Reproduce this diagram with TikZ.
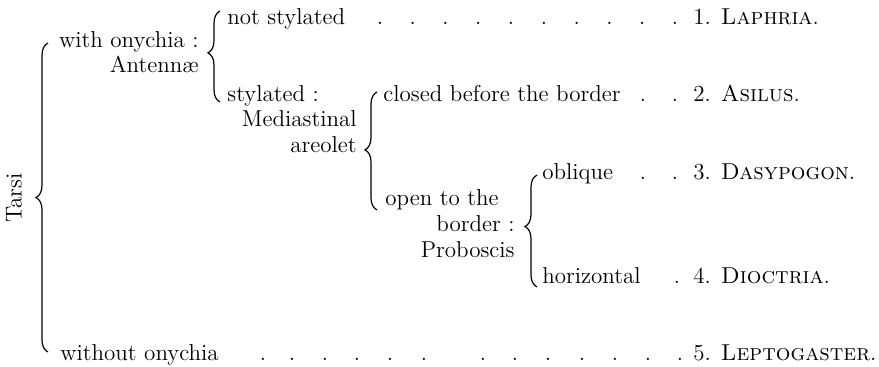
\documentclass[tikz,border=0pt]{standalone}
\usetikzlibrary{decorations.pathreplacing}

\begin{document}
\begin{tikzpicture}[x=0.5pt,y=-0.5pt,
	every node/.style={inner sep=0pt,font=\fontsize{11.5}{13}\selectfont},
	lft/.style={anchor=base west},
	rgt/.style={anchor=base east},
	leader/.style={anchor=base},
	brc/.style={decorate,line width=0.6pt,
		decoration={brace,amplitude=6pt,aspect=#1}}]
	\useasboundingbox (0,0) rectangle (879,366);
	
	\node[rotate=90] (tarsi) at (14,198) {Tarsi};
	
	\node[rgt] (with) at (199,47) {with onychia :};
	\node[rgt] (anten) at (199,72) {Antenn\ae};
	\node[lft] (without) at (60,360) {without onychia};
	
	\node[lft] (notst) at (227,24) {not stylated};
	\node[lft] (styl) at (227,101) {stylated :};
	\node[rgt] (media) at (357,126) {Mediastinal};
	\node[rgt] (areol) at (357,152) {areolet};
	
	\node[lft] (closed) at (383,101) {closed before the border};
	\node[lft] (open) at (385,205) {open to the};
	\node[rgt] (border) at (515,231) {border :};
	\node[rgt] (probo) at (515,257) {Proboscis};
	
	\node[lft] (obliq) at (542,179) {oblique};
	\node[lft] (horiz) at (542,283) {horizontal};
	
	\node[lft] (g1) at (693,24) {1. \textsc{Laphria}.};
	\node[lft] (g2) at (693,101) {2. \textsc{Asilus}.};
	\node[lft] (g3) at (693,179) {3. \textsc{Dasypogon}.};
	\node[lft] (g4) at (693,283) {4. \textsc{Dioctria}.};
	\node[lft] (g5) at (693,360) {5. \textsc{Leptogaster}.};
	
	\foreach \x [count=\i] in {380,412.8,445.6,478.3,511,543.9,576.7,609.4,642.2,675}
		\node[leader] (la\i) at (\x,24) {.};
	\foreach \x [count=\i] in {643,675}
		\node[leader] (lb\i) at (\x,101) {.};
	\foreach \x [count=\i] in {643,675}
		\node[leader] (lc\i) at (\x,179) {.};
	\node[leader] (ld1) at (677,283) {.};
	\foreach \x [count=\i] in {263,292,325,357,390,424,483,515,548,582,615,648,680}
		\node[leader] (le\i) at (\x,360) {.};
	
	\coordinate (a1) at (48,352);
	\coordinate (a2) at (48,43);
	\coordinate (b1) at (220,102);
	\coordinate (b2) at (220,11);
	\coordinate (c1) at (377,210);
	\coordinate (c2) at (377,92);
	\coordinate (d1) at (537,287);
	\coordinate (d2) at (537,175);
	
	\draw[brc=0.5] (a1) -- (a2);
	\draw[brc=0.54] (b1) -- (b2);
	\draw[brc=0.51] (c1) -- (c2);
	\draw[brc=0.54] (d1) -- (d2);
	
\end{tikzpicture}
\end{document}
